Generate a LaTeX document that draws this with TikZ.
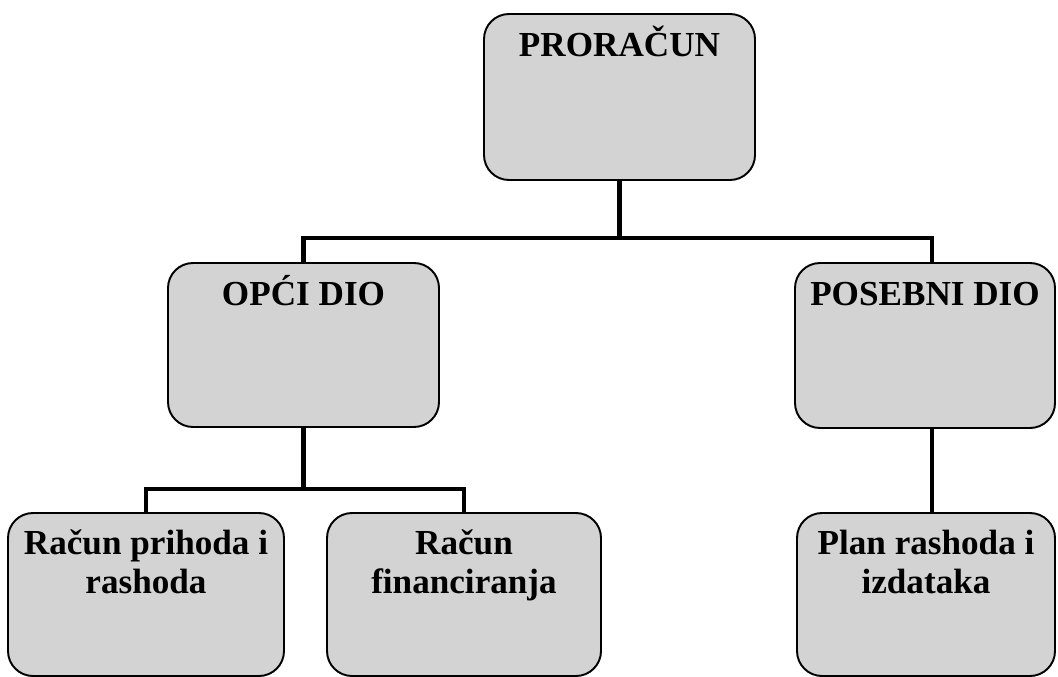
\documentclass[tikz,border=0pt]{standalone}
\usepackage{fontspec}
\setmainfont{Liberation Serif}
\usetikzlibrary{positioning}
\definecolor{boxgray}{RGB}{211,211,211}

\begin{document}
\begin{tikzpicture}[line join=miter,font=\fontsize{20}{22}\selectfont\bfseries,
	box/.style={draw,line width=1.1pt,rounded corners=0.5cm,fill=boxgray},
	title/.style={inner sep=0pt,anchor=base,align=center},
	link/.style={line width=2.8pt}]
	\useasboundingbox (0,0) rectangle (21.16,-13.54);
	\coordinate (topbus) at (0,-4.76);
	\coordinate (lowbus) at (0,-9.78);
	% boxes
	\node[box,minimum width=5.42cm,minimum height=3.32cm] (budget) at (12.39,-1.94) {};
	\node[box,minimum width=5.42cm,minimum height=3.28cm] (general) at (6.07,-6.90) {};
	\node[box,minimum width=5.20cm,minimum height=3.30cm] (special) at (18.50,-6.91) {};
	\node[box,minimum width=5.52cm,minimum height=3.26cm] (revenue) at (2.92,-11.89) {};
	\node[box,minimum width=5.48cm,minimum height=3.26cm] (financing) at (9.28,-11.89) {};
	\node[box,minimum width=5.16cm,minimum height=3.26cm] (plan) at (18.52,-11.89) {};
	% connectors
	\draw[link] (budget.south) -- (budget.south |- topbus);
	\draw[link] (general.north) -- (general.north |- topbus) -- ([xshift=1.4mm]special.north |- topbus) -- ([xshift=1.4mm]special.north);
	\draw[link] (general.south) -- (general.south |- lowbus);
	\draw[link] (revenue.north) -- (revenue.north |- lowbus) -- (financing.north |- lowbus) -- (financing.north);
	\draw[link] ([xshift=1.4mm]special.south) -- ([xshift=1.4mm]special.south |- plan.north);
	% labels
	\node[title] (budgettext) at ([yshift=-0.86cm]budget.north) {PRORAČUN};
	\node[title] (generaltext) at ([yshift=-0.86cm]general.north) {OPĆI DIO};
	\node[title] (specialtext) at ([yshift=-0.86cm]special.north) {POSEBNI DIO};
	\node[title] (revenuetext) at ([yshift=-1.62cm]revenue.north) {Račun prihoda i\\rashoda};
	\node[title] (financingtext) at ([yshift=-1.62cm]financing.north) {Račun\\financiranja};
	\node[title] (plantext) at ([yshift=-1.62cm]plan.north) {Plan rashoda i\\izdataka};
\end{tikzpicture}
\end{document}
